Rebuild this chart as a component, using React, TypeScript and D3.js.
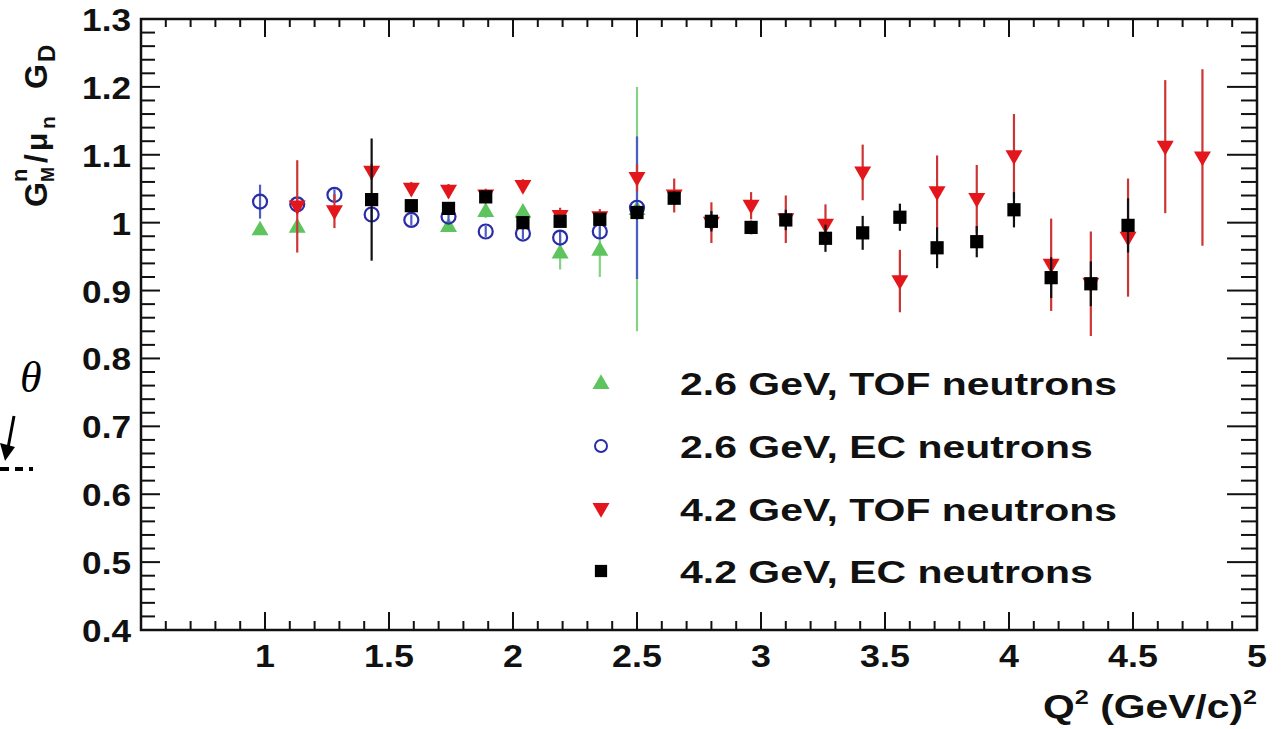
import { useEffect, useRef } from 'react'
import * as d3 from 'd3'

// 2.6 GeV, TOF neutrons (green up triangles)
const tof26Q = [0.98, 1.13, 1.74, 1.89, 2.04, 2.19, 2.35, 2.5]
const tof26V = [0.99, 0.994, 0.995, 1.017, 1.016, 0.956, 0.96, 1.02]
const tof26E = [0.008, 0.01, 0.008, 0.01, 0.01, 0.025, 0.04, 0.18]

// 2.6 GeV, EC neutrons (blue open circles)
const ec26Q = [0.98, 1.13, 1.28, 1.43, 1.59, 1.74, 1.89, 2.04, 2.19, 2.35, 2.5]
const ec26V = [1.031, 1.027, 1.041, 1.012, 1.004, 1.009, 0.987, 0.984, 0.978, 0.987, 1.022]
const ec26E = [0.025, 0.01, 0.008, 0.008, 0.008, 0.008, 0.008, 0.008, 0.01, 0.01, 0.105]

// 4.2 GeV, TOF neutrons (red down triangles)
const tof42Q = [1.13, 1.28, 1.43, 1.59, 1.74, 1.89, 2.04, 2.19, 2.35, 2.5, 2.65, 2.8, 2.96, 3.1, 3.26, 3.41, 3.56, 3.71, 3.87, 4.02, 4.17, 4.33, 4.48, 4.63, 4.78]
const tof42V = [1.024, 1.017, 1.075, 1.05, 1.047, 1.04, 1.054, 1.01, 1.008, 1.066, 1.04, 1.0, 1.025, 1.005, 0.997, 1.074, 0.914, 1.045, 1.035, 1.098, 0.938, 0.91, 0.978, 1.112, 1.096]
const tof42E = [0.068, 0.025, 0.012, 0.01, 0.01, 0.01, 0.01, 0.012, 0.012, 0.02, 0.025, 0.03, 0.02, 0.035, 0.03, 0.041, 0.046, 0.054, 0.05, 0.062, 0.068, 0.077, 0.087, 0.098, 0.13]

// 4.2 GeV, EC neutrons (black squares)
const ec42Q = [1.43, 1.59, 1.74, 1.89, 2.04, 2.19, 2.35, 2.5, 2.65, 2.8, 2.96, 3.1, 3.26, 3.41, 3.56, 3.71, 3.87, 4.02, 4.17, 4.33, 4.48]
const ec42V = [1.034, 1.025, 1.021, 1.038, 1.0, 1.002, 1.005, 1.015, 1.036, 1.002, 0.993, 1.004, 0.977, 0.985, 1.008, 0.963, 0.972, 1.019, 0.919, 0.91, 0.996]
const ec42E = [0.09, 0.008, 0.008, 0.008, 0.008, 0.008, 0.008, 0.01, 0.01, 0.015, 0.01, 0.015, 0.02, 0.025, 0.02, 0.03, 0.023, 0.026, 0.03, 0.033, 0.04]

const legendLabels = ['2.6 GeV, TOF neutrons', '2.6 GeV, EC neutrons', '4.2 GeV, TOF neutrons', '4.2 GeV, EC neutrons']
const xTickLabels = ['1', '1.5', '2', '2.5', '3', '3.5', '4', '4.5', '5']
const yTickLabels = ['0.4', '0.5', '0.6', '0.7', '0.8', '0.9', '1', '1.1', '1.2', '1.3']

const FONT = 'Liberation Sans, Arial, Helvetica, sans-serif'

export default function App() {
  const svgRef = useRef(null)
  const width = 1285
  const height = 729

  useEffect(() => {
    if (!svgRef.current) return
    const svg = d3.select(svgRef.current)
    svg.selectAll('*').remove()

    const x = d3.scaleLinear().domain([0.5, 5]).range([141, 1257])
    const y = d3.scaleLinear().domain([0.4, 1.3]).range([630, 19])
    const [x0, x1] = x.range()
    const [y0, y1] = y.range()

    const label = (g, txt, tx, ty, size, sx, anchor) =>
      g.append('text')
        .attr('transform', `translate(${tx},${ty}) scale(${sx},1)`)
        .attr('text-anchor', anchor)
        .attr('font-family', FONT)
        .attr('font-weight', 'bold')
        .attr('font-size', size)
        .attr('fill', '#111')
        .text(txt)

    // ticks (ROOT style, on all four sides)
    const ticks = svg.append('g').attr('stroke', '#111').attr('stroke-width', 2)
    d3.range(0.5, 5.001, 0.1).forEach((v, i) => {
      const major = i % 5 === 0
      const px = x(v)
      ticks.append('line').attr('x1', px).attr('x2', px).attr('y1', y0).attr('y2', y0 - (major ? 18 : 9))
      ticks.append('line').attr('x1', px).attr('x2', px).attr('y1', y1).attr('y2', y1 + (major ? 18 : 8))
    })
    d3.range(0.4, 1.3001, 0.02).forEach((v, i) => {
      const major = i % 5 === 0
      const py = y(v)
      ticks.append('line').attr('x1', x0).attr('x2', x0 + (major ? 19 : 14)).attr('y1', py).attr('y2', py)
      ticks.append('line').attr('x1', x1).attr('x2', x1 - (major ? 30 : 16)).attr('y1', py).attr('y2', py)
    })

    // frame
    svg.append('rect')
      .attr('x', x0).attr('y', y1).attr('width', x1 - x0).attr('height', y0 - y1)
      .attr('fill', 'none').attr('stroke', '#111').attr('stroke-width', 2.5)

    // tick labels
    xTickLabels.forEach(t => label(svg, t, x(+t), 667, 32, 1.12, 'middle'))
    yTickLabels.forEach(t => label(svg, t, 131, y(+t) + 12, 32, 1.1, 'end'))

    // axis titles
    const xt = svg.append('text')
      .attr('transform', `translate(${x1},718) scale(1.2,1)`)
      .attr('text-anchor', 'end')
      .attr('font-family', FONT).attr('font-weight', 'bold').attr('font-size', 34).attr('fill', '#111')
    xt.append('tspan').text('Q')
    xt.append('tspan').attr('font-size', 21).attr('dy', -14).text('2')
    xt.append('tspan').attr('dy', 14).text(' (GeV/c)')
    xt.append('tspan').attr('font-size', 21).attr('dy', -14).text('2')

    const yt = svg.append('g').attr('transform', 'translate(47,207) rotate(-90)')
      .attr('font-family', FONT).attr('font-weight', 'bold').attr('fill', '#111')
    const ytPieces = [
      { t: 'G', px: 0, py: 0, s: 32 },
      { t: 'n', px: 25, py: -20, s: 22 },
      { t: 'M', px: 25, py: 7, s: 18 },
      { t: '/', px: 44, py: 0, s: 32 },
      { t: 'μ', px: 56, py: 0, s: 30 },
      { t: 'n', px: 78, py: 8, s: 21 },
      { t: 'G', px: 118, py: 0, s: 32 },
      { t: 'D', px: 145, py: 8, s: 24 },
    ]
    ytPieces.forEach(p => yt.append('text').attr('x', p.px).attr('y', p.py).attr('font-size', p.s).text(p.t))

    const plot = svg.append('g')
    const triUp = d3.symbol().type(d3.symbolTriangle).size(125)
    const square = d3.symbol().type(d3.symbolSquare).size(175)

    const errBars = (qs, vs, es, color) => {
      qs.forEach((q, i) => {
        plot.append('line')
          .attr('x1', x(q)).attr('x2', x(q))
          .attr('y1', y(vs[i] - es[i])).attr('y2', y(vs[i] + es[i]))
          .attr('stroke', color).attr('stroke-width', 2.2)
      })
    }

    // 2.6 GeV TOF
    errBars(tof26Q, tof26V, tof26E, '#86d286')
    tof26Q.forEach((q, i) => {
      plot.append('path').attr('d', triUp()).attr('transform', `translate(${x(q)},${y(tof26V[i]) + 1})`).attr('fill', '#5ec45e')
    })
    // 2.6 GeV EC
    errBars(ec26Q, ec26V, ec26E, '#4c5ec6')
    ec26Q.forEach((q, i) => {
      plot.append('circle').attr('cx', x(q)).attr('cy', y(ec26V[i])).attr('r', 7)
        .attr('fill', 'none').attr('stroke', '#2a2ca8').attr('stroke-width', 2.2)
    })
    // 4.2 GeV TOF
    errBars(tof42Q, tof42V, tof42E, '#cc3535')
    tof42Q.forEach((q, i) => {
      plot.append('path').attr('d', triUp()).attr('transform', `translate(${x(q)},${y(tof42V[i]) - 1}) rotate(180)`).attr('fill', '#e3161b')
    })
    // 4.2 GeV EC
    errBars(ec42Q, ec42V, ec42E, '#111')
    ec42Q.forEach((q, i) => {
      plot.append('path').attr('d', square()).attr('transform', `translate(${x(q)},${y(ec42V[i])})`).attr('fill', '#000')
    })

    // legend
    const legend = svg.append('g')
    const rowY = [383, 446, 509, 571]
    const mx = 601
    legend.append('path').attr('d', triUp()).attr('transform', `translate(${mx},${rowY[0] + 1})`).attr('fill', '#5ec45e')
    legend.append('circle').attr('cx', mx).attr('cy', rowY[1]).attr('r', 6).attr('fill', 'none').attr('stroke', '#2a2ca8').attr('stroke-width', 2)
    legend.append('path').attr('d', triUp()).attr('transform', `translate(${mx},${rowY[2] - 1}) rotate(180)`).attr('fill', '#e3161b')
    legend.append('path').attr('d', d3.symbol().type(d3.symbolSquare).size(150)()).attr('transform', `translate(${mx},${rowY[3]})`).attr('fill', '#000')
    legendLabels.forEach((t, i) => label(legend, t, 680, rowY[i] + 12, 32, 1.28, 'start'))

    // stray fragment of a neighbouring figure on the left edge
    const frag = svg.append('g')
    frag.append('text').attr('x', 20).attr('y', 392)
      .attr('font-family', 'Liberation Serif, Times New Roman, serif').attr('font-style', 'italic')
      .attr('font-size', 44).attr('fill', '#000').text('θ')
    frag.append('line').attr('x1', 14).attr('y1', 416).attr('x2', 8).attr('y2', 448).attr('stroke', '#000').attr('stroke-width', 3)
    frag.append('path').attr('d', 'M 0 443 L 15 447 L 5 461 Z').attr('fill', '#000')
    frag.append('line').attr('x1', 0).attr('x2', 9).attr('y1', 469).attr('y2', 469).attr('stroke', '#000').attr('stroke-width', 4)
    frag.append('line').attr('x1', 15).attr('x2', 23).attr('y1', 469).attr('y2', 469).attr('stroke', '#000').attr('stroke-width', 4)
    frag.append('line').attr('x1', 29).attr('x2', 33).attr('y1', 469).attr('y2', 469).attr('stroke', '#000').attr('stroke-width', 4)
  }, [])

  return (
    <svg ref={svgRef} width={width} height={height}
      style={{ position: 'absolute', left: 0, top: 0, background: '#fff' }} />
  )
}
